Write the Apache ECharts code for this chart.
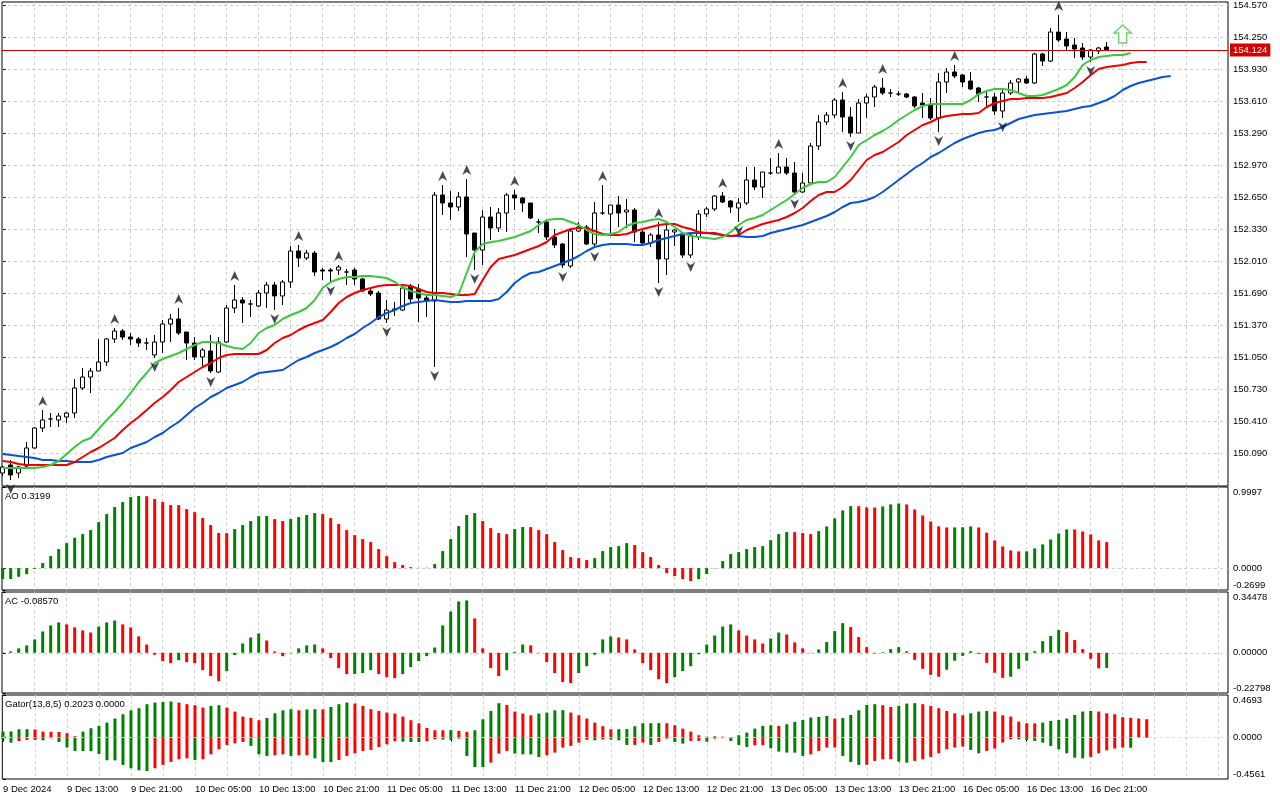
<!DOCTYPE html>
<html>
<head>
<meta charset="utf-8">
<script src="https://cdn.jsdelivr.net/npm/echarts@6/dist/echarts.min.js"></script>
<style>
html, body { margin: 0; padding: 0; background: #fff; }
#chart { width: 1280px; height: 800px; }
</style>
</head>
<body>
<div id="chart"></div>
<script>
const FONT = "'Liberation Sans', Arial, sans-serif"
const FS = 9.5

// time axis labels, one every 8 hourly bars
const timeLabels = ['9 Dec 2024', '9 Dec 13:00', '9 Dec 21:00', '10 Dec 05:00', '10 Dec 13:00', '10 Dec 21:00',
  '11 Dec 05:00', '11 Dec 13:00', '11 Dec 21:00', '12 Dec 05:00', '12 Dec 13:00', '12 Dec 21:00',
  '13 Dec 05:00', '13 Dec 13:00', '13 Dec 21:00', '16 Dec 05:00', '16 Dec 13:00', '16 Dec 21:00']

const priceTicks = [150.09, 150.41, 150.73, 151.05, 151.37, 151.69, 152.01, 152.33, 152.65, 152.97,
  153.29, 153.61, 153.93, 154.25, 154.57]

// hourly candles
const opens = [149.89, 149.97, 149.89, 149.96, 150.14, 150.34, 150.43, 150.42, 150.45, 150.49,
  150.74, 150.85, 150.91, 151.00, 151.23, 151.31, 151.25, 151.23, 151.19, 151.07,
  151.20, 151.38, 151.43, 151.30, 151.19, 151.05, 151.11, 150.90, 151.20, 151.54,
  151.62, 151.58, 151.56, 151.69, 151.77, 151.66, 151.80, 152.11, 152.04, 152.09,
  151.92, 151.92, 151.92, 151.90, 151.92, 151.83, 151.71, 151.69, 151.43, 151.52,
  151.52, 151.76, 151.73, 151.64, 151.61, 152.67, 152.59, 152.55, 152.65, 152.29,
  152.12, 152.45, 152.34, 152.49, 152.67, 152.64, 152.59, 152.40, 152.40, 152.25,
  152.18, 151.96, 152.31, 152.35, 152.18, 152.49, 152.48, 152.57, 152.50, 152.52,
  152.30, 152.19, 152.27, 152.03, 152.30, 152.28, 152.07, 152.25, 152.48, 152.53,
  152.66, 152.61, 152.54, 152.59, 152.82, 152.75, 152.89, 152.89, 152.95, 152.89,
  152.70, 152.79, 153.16, 153.40, 153.47, 153.62, 153.45, 153.29, 153.59, 153.65,
  153.74, 153.69, 153.68, 153.68, 153.65, 153.59, 153.57, 153.44, 153.80, 153.90,
  153.87, 153.81, 153.74, 153.65, 153.65, 153.51, 153.69, 153.80, 153.83, 153.79,
  154.08, 154.01, 154.30, 154.23, 154.17, 154.14, 154.05, 154.11, 154.15]
const highs = [149.96, 150.02, 149.96, 150.20, 150.35, 150.52, 150.49, 150.49, 150.50, 150.83,
  150.94, 150.94, 151.23, 151.24, 151.34, 151.33, 151.29, 151.25, 151.24, 151.27,
  151.42, 151.48, 151.54, 151.30, 151.25, 151.14, 151.27, 151.25, 151.57, 151.77,
  151.65, 151.62, 151.72, 151.80, 151.80, 151.82, 152.16, 152.17, 152.12, 152.11,
  151.94, 151.94, 151.97, 151.93, 151.94, 151.84, 151.73, 151.71, 151.62, 151.60,
  151.75, 151.78, 151.78, 151.67, 152.70, 152.77, 152.71, 152.70, 152.83, 152.29,
  152.52, 152.55, 152.54, 152.69, 152.72, 152.65, 152.59, 152.43, 152.42, 152.33,
  152.19, 152.34, 152.40, 152.37, 152.60, 152.77, 152.57, 152.66, 152.63, 152.54,
  152.33, 152.29, 152.40, 152.37, 152.33, 152.30, 152.29, 152.52, 152.55, 152.67,
  152.70, 152.62, 152.64, 152.95, 152.95, 152.90, 153.04, 153.09, 153.04, 153.00,
  152.89, 153.19, 153.47, 153.50, 153.64, 153.70, 153.55, 153.63, 153.68, 153.77,
  153.84, 153.73, 153.71, 153.69, 153.66, 153.69, 153.64, 153.89, 153.94, 153.97,
  153.88, 153.90, 153.75, 153.72, 153.69, 153.73, 153.82, 153.84, 153.86, 154.09,
  154.09, 154.34, 154.47, 154.30, 154.24, 154.19, 154.13, 154.15, 154.20]
const lows = [149.86, 149.82, 149.84, 149.95, 150.13, 150.30, 150.35, 150.35, 150.39, 150.44,
  150.72, 150.69, 150.91, 150.96, 151.19, 151.22, 151.17, 151.15, 151.12, 151.04,
  151.09, 151.20, 151.27, 151.02, 151.02, 150.95, 150.89, 150.89, 151.19, 151.49,
  151.39, 151.45, 151.55, 151.54, 151.52, 151.57, 151.74, 151.95, 152.02, 151.86,
  151.82, 151.80, 151.87, 151.77, 151.77, 151.70, 151.66, 151.42, 151.39, 151.46,
  151.51, 151.58, 151.40, 151.45, 150.95, 152.47, 152.42, 152.51, 152.05, 151.92,
  151.97, 152.22, 152.30, 152.30, 152.52, 152.50, 152.43, 152.29, 152.22, 152.14,
  151.94, 151.94, 152.30, 152.17, 152.14, 152.47, 152.29, 152.35, 152.34, 152.20,
  152.17, 152.15, 151.79, 151.87, 152.16, 152.04, 152.04, 152.22, 152.45, 152.51,
  152.59, 152.49, 152.40, 152.57, 152.72, 152.64, 152.87, 152.89, 152.87, 152.67,
  152.69, 152.77, 153.12, 153.37, 153.44, 153.30, 153.25, 153.29, 153.44, 153.55,
  153.67, 153.65, 153.66, 153.64, 153.54, 153.44, 153.42, 153.30, 153.69, 153.84,
  153.75, 153.72, 153.60, 153.54, 153.47, 153.44, 153.67, 153.69, 153.78, 153.78,
  153.96, 154.00, 154.20, 154.12, 154.04, 154.02, 154.00, 154.08, 154.11]
const closes = [149.95, 149.87, 149.95, 150.14, 150.34, 150.42, 150.43, 150.46, 150.49, 150.74,
  150.85, 150.91, 151.00, 151.23, 151.31, 151.25, 151.23, 151.19, 151.19, 151.20,
  151.38, 151.43, 151.29, 151.19, 151.05, 151.12, 150.91, 151.20, 151.54, 151.62,
  151.59, 151.58, 151.69, 151.77, 151.66, 151.80, 152.11, 152.04, 152.09, 151.90,
  151.91, 151.91, 151.95, 151.90, 151.83, 151.71, 151.68, 151.43, 151.52, 151.53,
  151.74, 151.63, 151.64, 151.61, 152.67, 152.59, 152.55, 152.65, 152.28, 152.12,
  152.45, 152.34, 152.49, 152.67, 152.64, 152.59, 152.44, 152.40, 152.25, 152.17,
  151.97, 152.31, 152.35, 152.18, 152.49, 152.49, 152.57, 152.49, 152.52, 152.30,
  152.19, 152.27, 152.03, 152.32, 152.32, 152.07, 152.27, 152.48, 152.53, 152.66,
  152.60, 152.55, 152.59, 152.82, 152.75, 152.90, 152.89, 152.95, 152.89, 152.70,
  152.79, 153.16, 153.40, 153.47, 153.62, 153.45, 153.29, 153.59, 153.65, 153.75,
  153.69, 153.69, 153.68, 153.65, 153.56, 153.57, 153.44, 153.80, 153.90, 153.86,
  153.80, 153.73, 153.68, 153.65, 153.51, 153.69, 153.79, 153.83, 153.79, 154.08,
  154.01, 154.30, 154.22, 154.16, 154.13, 154.05, 154.12, 154.14, 154.124]

// Alligator lines, drawn shifted forward (values per bar index from 0)
const jaw = [150.08, 150.07, 150.06, 150.05, 150.04, 150.02, 150.02, 150.01, 150.01, 150.00,
  150.00, 150.00, 150.02, 150.05, 150.07, 150.09, 150.14, 150.17, 150.20, 150.25,
  150.29, 150.35, 150.40, 150.47, 150.54, 150.59, 150.65, 150.69, 150.74, 150.77,
  150.80, 150.85, 150.89, 150.90, 150.91, 150.92, 150.97, 151.02, 151.05, 151.09,
  151.12, 151.15, 151.19, 151.24, 151.28, 151.34, 151.39, 151.45, 151.49, 151.52,
  151.56, 151.59, 151.60, 151.61, 151.62, 151.61, 151.60, 151.60, 151.61, 151.61,
  151.61, 151.61, 151.63, 151.70, 151.79, 151.85, 151.89, 151.90, 151.93, 151.96,
  151.99, 152.02, 152.06, 152.11, 152.15, 152.17, 152.18, 152.18, 152.18, 152.17,
  152.17, 152.19, 152.22, 152.24, 152.26, 152.28, 152.29, 152.29, 152.29, 152.28,
  152.27, 152.26, 152.26, 152.25, 152.25, 152.26, 152.29, 152.31, 152.33, 152.35,
  152.37, 152.40, 152.43, 152.46, 152.50, 152.55, 152.59, 152.60, 152.62, 152.65,
  152.70, 152.76, 152.82, 152.88, 152.94, 152.99, 153.05, 153.09, 153.14, 153.19,
  153.23, 153.26, 153.29, 153.31, 153.32, 153.35, 153.39, 153.43, 153.45, 153.47,
  153.48, 153.49, 153.50, 153.51, 153.53, 153.55, 153.56, 153.59, 153.62, 153.66,
  153.72, 153.76, 153.79, 153.81, 153.83, 153.85, 153.86]
const teeth = [150.01, 150.00, 149.98, 149.97, 149.97, 149.97, 149.97, 149.97, 149.97, 150.00,
  150.05, 150.10, 150.14, 150.19, 150.24, 150.32, 150.39, 150.45, 150.52, 150.59,
  150.65, 150.72, 150.80, 150.85, 150.90, 150.95, 150.99, 151.04, 151.07, 151.08,
  151.08, 151.08, 151.08, 151.12, 151.19, 151.24, 151.27, 151.32, 151.36, 151.39,
  151.42, 151.50, 151.59, 151.65, 151.69, 151.72, 151.74, 151.76, 151.77, 151.77,
  151.77, 151.76, 151.73, 151.70, 151.69, 151.69, 151.68, 151.67, 151.67, 151.68,
  151.82, 151.95, 152.03, 152.05, 152.07, 152.10, 152.13, 152.16, 152.20, 152.27,
  152.30, 152.33, 152.34, 152.34, 152.31, 152.28, 152.27, 152.27, 152.28, 152.31,
  152.33, 152.35, 152.37, 152.38, 152.38, 152.35, 152.33, 152.30, 152.29, 152.29,
  152.27, 152.26, 152.27, 152.32, 152.35, 152.38, 152.40, 152.42, 152.45, 152.49,
  152.54, 152.61, 152.67, 152.70, 152.70, 152.75, 152.82, 152.92, 153.02, 153.07,
  153.10, 153.15, 153.20, 153.27, 153.32, 153.37, 153.40, 153.44, 153.46, 153.47,
  153.48, 153.48, 153.49, 153.55, 153.59, 153.61, 153.63, 153.63, 153.64, 153.64,
  153.64, 153.65, 153.67, 153.69, 153.74, 153.80, 153.87, 153.93, 153.95, 153.96,
  153.97, 153.99, 154.00, 154.00]
const lips = [149.94, 149.94, 149.94, 149.94, 149.94, 149.95, 149.97, 150.01, 150.08, 150.15,
  150.21, 150.24, 150.33, 150.42, 150.50, 150.59, 150.69, 150.80, 150.89, 150.99,
  151.03, 151.06, 151.09, 151.13, 151.17, 151.20, 151.20, 151.19, 151.16, 151.14,
  151.13, 151.19, 151.29, 151.34, 151.37, 151.43, 151.47, 151.50, 151.54, 151.62,
  151.74, 151.80, 151.83, 151.85, 151.85, 151.86, 151.86, 151.85, 151.84, 151.80,
  151.75, 151.71, 151.69, 151.67, 151.67, 151.66, 151.65, 151.68, 151.89, 152.10,
  152.18, 152.20, 152.21, 152.23, 152.25, 152.28, 152.31, 152.37, 152.42, 152.43,
  152.43, 152.40, 152.37, 152.32, 152.28, 152.27, 152.28, 152.30, 152.36, 152.39,
  152.40, 152.42, 152.43, 152.40, 152.35, 152.29, 152.26, 152.25, 152.24, 152.23,
  152.25, 152.30, 152.37, 152.42, 152.44, 152.47, 152.52, 152.57, 152.62, 152.68,
  152.74, 152.78, 152.80, 152.80, 152.85, 152.95, 153.05, 153.17, 153.22, 153.27,
  153.31, 153.36, 153.42, 153.47, 153.52, 153.56, 153.58, 153.58, 153.58, 153.58,
  153.58, 153.62, 153.68, 153.71, 153.73, 153.73, 153.72, 153.69, 153.66, 153.66,
  153.67, 153.70, 153.73, 153.77, 153.85, 153.97, 154.02, 154.05, 154.06, 154.07,
  154.07, 154.09]

const fractalUpBars = [5, 14, 22, 29, 37, 42, 55, 58, 64, 75, 82, 90, 97, 105, 110, 119, 132]
const fractalDownBars = [1, 19, 26, 34, 41, 48, 54, 59, 70, 74, 82, 86, 92, 99, 106, 117, 125, 136]

const signalBar = 140
const signalPrice = 154.28

const ao = [-0.136, -0.134, -0.107, -0.074, -0.010, 0.062, 0.148, 0.234, 0.308, 0.374,
  0.419, 0.469, 0.567, 0.666, 0.752, 0.814, 0.875, 0.888, 0.886, 0.851,
  0.814, 0.777, 0.776, 0.727, 0.690, 0.617, 0.530, 0.432, 0.431, 0.481,
  0.530, 0.580, 0.641, 0.642, 0.604, 0.580, 0.605, 0.629, 0.654, 0.678,
  0.666, 0.617, 0.543, 0.469, 0.407, 0.358, 0.321, 0.234, 0.148, 0.074,
  0.037, 0.012, 0.002, 0.004, 0.049, 0.210, 0.358, 0.518, 0.654, 0.678,
  0.580, 0.493, 0.432, 0.419, 0.481, 0.506, 0.505, 0.469, 0.419, 0.321,
  0.222, 0.136, 0.123, 0.099, 0.123, 0.210, 0.259, 0.271, 0.308, 0.284,
  0.197, 0.136, 0.037, -0.062, -0.099, -0.136, -0.160, -0.136, -0.074, -0.003,
  0.086, 0.173, 0.197, 0.234, 0.259, 0.271, 0.345, 0.419, 0.444, 0.443,
  0.432, 0.419, 0.456, 0.514, 0.612, 0.711, 0.764, 0.763, 0.748, 0.747,
  0.760, 0.785, 0.797, 0.785, 0.723, 0.649, 0.575, 0.514, 0.501, 0.502,
  0.503, 0.514, 0.501, 0.436, 0.341, 0.267, 0.218, 0.206, 0.207, 0.243,
  0.292, 0.353, 0.427, 0.477, 0.476, 0.452, 0.415, 0.341, 0.3199]

const ac = [0.002, 0.008, 0.025, 0.042, 0.076, 0.121, 0.155, 0.172, 0.161, 0.144,
  0.127, 0.115, 0.149, 0.172, 0.183, 0.161, 0.144, 0.093, 0.047, -0.011,
  -0.047, -0.059, -0.042, -0.053, -0.059, -0.098, -0.132, -0.161, -0.104, -0.013,
  0.053, 0.087, 0.110, 0.070, 0.008, -0.019, -0.002, 0.025, 0.042, 0.047,
  0.025, -0.030, -0.087, -0.121, -0.120, -0.115, -0.098, -0.121, -0.138, -0.144,
  -0.121, -0.081, -0.047, -0.019, 0.030, 0.155, 0.234, 0.291, 0.297, 0.195,
  0.025, -0.087, -0.132, -0.098, 0.006, 0.047, 0.042, -0.002, -0.053, -0.115,
  -0.166, -0.172, -0.115, -0.076, -0.011, 0.076, 0.093, 0.087, 0.076, 0.019,
  -0.059, -0.098, -0.149, -0.172, -0.138, -0.104, -0.076, -0.008, 0.047, 0.098,
  0.149, 0.161, 0.127, 0.098, 0.076, 0.053, 0.081, 0.115, 0.104, 0.059,
  0.025, -0.002, 0.019, 0.061, 0.123, 0.168, 0.146, 0.089, 0.032, -0.004,
  0.004, 0.021, 0.032, 0.009, -0.040, -0.091, -0.125, -0.136, -0.096, -0.045,
  -0.017, 0.009, -0.006, -0.057, -0.113, -0.142, -0.136, -0.091, -0.045, 0.009,
  0.066, 0.095, 0.129, 0.117, 0.072, 0.021, -0.034, -0.088, -0.0857]

const gatorUp = [0.066, 0.068, 0.092, 0.093, 0.090, 0.066, 0.064, 0.062, 0.048, 0.015,
  0.066, 0.103, 0.129, 0.165, 0.210, 0.257, 0.301, 0.324, 0.368, 0.386,
  0.392, 0.397, 0.386, 0.368, 0.357, 0.331, 0.349, 0.357, 0.331, 0.287,
  0.232, 0.217, 0.191, 0.217, 0.268, 0.301, 0.313, 0.301, 0.310, 0.313,
  0.311, 0.338, 0.368, 0.386, 0.375, 0.349, 0.313, 0.294, 0.276, 0.265,
  0.232, 0.191, 0.158, 0.107, 0.081, 0.080, 0.082, 0.074, 0.063, 0.081,
  0.202, 0.294, 0.379, 0.360, 0.287, 0.265, 0.246, 0.265, 0.276, 0.301,
  0.302, 0.276, 0.246, 0.210, 0.165, 0.125, 0.092, 0.093, 0.094, 0.125,
  0.158, 0.159, 0.160, 0.158, 0.136, 0.099, 0.066, 0.026, 0.011, 0.014,
  0.010, 0.006, 0.026, 0.055, 0.099, 0.129, 0.136, 0.129, 0.147, 0.173,
  0.195, 0.221, 0.228, 0.239, 0.210, 0.215, 0.250, 0.301, 0.360, 0.368,
  0.357, 0.338, 0.349, 0.375, 0.379, 0.368, 0.349, 0.324, 0.294, 0.268,
  0.246, 0.268, 0.287, 0.294, 0.287, 0.246, 0.232, 0.176, 0.158, 0.157,
  0.165, 0.184, 0.195, 0.210, 0.250, 0.287, 0.294, 0.287, 0.268, 0.257,
  0.225, 0.218, 0.210, 0.2023]

const gatorDown = [-0.018, -0.055, -0.037, -0.026, -0.025, -0.030, -0.007, -0.048, -0.110, -0.147,
  -0.148, -0.150, -0.180, -0.250, -0.251, -0.301, -0.338, -0.360, -0.368, -0.338,
  -0.301, -0.268, -0.239, -0.228, -0.246, -0.239, -0.184, -0.129, -0.081, -0.063,
  -0.048, -0.092, -0.184, -0.202, -0.195, -0.184, -0.202, -0.195, -0.194, -0.228,
  -0.268, -0.269, -0.246, -0.202, -0.173, -0.147, -0.136, -0.103, -0.074, -0.040,
  -0.045, -0.048, -0.049, -0.040, -0.018, -0.022, -0.026, -0.011, -0.202, -0.324,
  -0.325, -0.276, -0.176, -0.147, -0.176, -0.184, -0.185, -0.213, -0.195, -0.165,
  -0.110, -0.092, -0.055, -0.025, -0.030, -0.020, -0.022, -0.030, -0.081, -0.080,
  -0.055, -0.081, -0.048, -0.011, -0.048, -0.066, -0.037, -0.036, -0.044, -0.011,
  -0.007, -0.037, -0.081, -0.103, -0.085, -0.084, -0.118, -0.154, -0.165, -0.166,
  -0.202, -0.184, -0.147, -0.110, -0.109, -0.202, -0.268, -0.301, -0.300, -0.257,
  -0.239, -0.238, -0.265, -0.276, -0.257, -0.239, -0.213, -0.173, -0.129, -0.110,
  -0.099, -0.136, -0.173, -0.147, -0.121, -0.055, -0.018, -0.020, -0.026, -0.037,
  -0.055, -0.092, -0.129, -0.173, -0.221, -0.228, -0.213, -0.173, -0.140, -0.121,
  -0.110, -0.112]

// ---- layout ----
const GREEN = '#008000'
const RED = '#ff0000'
const GRID_LINE = { color: '#cfcfcf', type: [3, 3], width: 1 }
const X_MIN = -0.0875
const X_MAX = 153.1625
const LEFT = 2
const RIGHT = 52

const panels = [
  { top: 2, height: 484 },   // price
  { top: 487, height: 103 }, // AO
  { top: 592, height: 101 }, // AC
  { top: 695, height: 84 }   // Gator
]

const splitBars = []
for (let i = 4; i < X_MAX; i += 4) splitBars.push(i)
const labelBars = timeLabels.map((_, k) => k * 8)

const lastPrice = closes[closes.length - 1]

function textStyle(extra) {
  return Object.assign({ color: '#000', fontSize: FS, fontFamily: FONT }, extra)
}

function xAxis(gridIndex, extra) {
  return Object.assign({
    type: 'value', gridIndex, min: X_MIN, max: X_MAX,
    axisLine: { show: false },
    axisTick: { show: false },
    axisLabel: { show: false },
    splitLine: { show: false }
  }, extra)
}

function gridXAxis(gridIndex) {
  return xAxis(gridIndex, {
    axisTick: { show: false, customValues: splitBars },
    splitLine: { show: true, lineStyle: GRID_LINE }
  })
}

// two y axes per oscillator panel: one for labels/ticks, one for the zero line
function oscYAxes(gridIndex, min, max, digits) {
  const vals = [min, 0, max]
  return [{
    type: 'value', gridIndex, min, max, position: 'right',
    axisLine: { show: false },
    axisTick: { show: true, customValues: vals, length: 3, lineStyle: { color: '#000' } },
    axisLabel: Object.assign(textStyle({ margin: 5, customValues: vals,
      verticalAlignMinLabel: 'bottom', verticalAlignMaxLabel: 'top',
      formatter: v => v.toFixed(digits) })),
    splitLine: { show: false }
  }, {
    type: 'value', gridIndex, min, max, position: 'right',
    axisLine: { show: false },
    axisTick: { show: false, customValues: [0] },
    axisLabel: { show: false },
    splitLine: { show: true, lineStyle: GRID_LINE }
  }]
}

function histogram(values, greenWhenRising) {
  let color = GREEN
  return values.map((v, i) => {
    if (i > 0 && v !== values[i - 1]) {
      const rising = v > values[i - 1]
      color = rising === greenWhenRising ? GREEN : RED
    }
    return { value: [i, v], itemStyle: { color } }
  })
}

function lineData(values) {
  return values.map((v, i) => [i, v])
}

const candles = opens.map((o, i) => [i, o, closes[i], lows[i], highs[i]])

const upArrow = 'path://M5,0 L10,10 L5,7 L0,10 Z'
const downArrow = 'path://M0,0 L5,3 L10,0 L5,10 Z'
const buyArrow = 'path://M8.5,0 L17,8 L12.5,8 L12.5,18 L4.5,18 L4.5,8 L0,8 Z'

const option = {
  animation: false,
  backgroundColor: '#fff',
  textStyle: { fontFamily: FONT },
  title: [
    { text: 'AO ' + ao[ao.length - 1].toFixed(4), left: 5, top: 491, padding: 0,
      textStyle: textStyle({ fontWeight: 'normal' }) },
    { text: 'AC ' + ac[ac.length - 1].toFixed(5), left: 5, top: 596, padding: 0,
      textStyle: textStyle({ fontWeight: 'normal' }) },
    { text: 'Gator(13,8,5) ' + gatorUp[gatorUp.length - 1].toFixed(4) + ' 0.0000', left: 5, top: 699, padding: 0,
      textStyle: textStyle({ fontWeight: 'normal' }) }
  ],
  grid: panels.map(p => ({
    left: LEFT, right: RIGHT, top: p.top, height: p.height,
    show: true, borderColor: '#000', borderWidth: 1, backgroundColor: '#fff'
  })),
  xAxis: [
    gridXAxis(0),
    gridXAxis(1),
    gridXAxis(2),
    gridXAxis(3),
    xAxis(3, {
      position: 'bottom',
      axisTick: { show: true, customValues: labelBars, length: 4, lineStyle: { color: '#000' } },
      axisLabel: textStyle({ show: true, customValues: labelBars, align: 'left', margin: 5,
        formatter: v => timeLabels[Math.round(v / 8)] })
    })
  ],
  yAxis: [
    {
      type: 'value', gridIndex: 0, min: 149.76, max: 154.60, position: 'right',
      axisLine: { show: false },
      axisTick: { show: true, customValues: priceTicks, length: 3, lineStyle: { color: '#000' } },
      axisLabel: textStyle({ margin: 5, customValues: priceTicks, formatter: v => v.toFixed(3) }),
      splitLine: { show: true, lineStyle: GRID_LINE }
    },
    ...oscYAxes(1, -0.2699, 0.9997, 4),
    ...oscYAxes(2, -0.22798, 0.34478, 5),
    ...oscYAxes(3, -0.4561, 0.4693, 4)
  ],
  series: [
    {
      type: 'candlestick', xAxisIndex: 0, yAxisIndex: 0,
      data: candles, encode: { x: 0, y: [1, 2, 3, 4] },
      barWidth: 5,
      itemStyle: { color: '#fff', color0: '#000', borderColor: '#000', borderColor0: '#000', borderWidth: 1 },
      markLine: {
        silent: true, symbol: ['none', 'none'],
        lineStyle: { color: '#d40000', width: 1, type: 'solid' },
        label: {
          show: true, position: 'end', distance: 2,
          formatter: () => lastPrice.toFixed(3),
          color: '#fff', backgroundColor: '#d40000', padding: [2, 3, 1, 3],
          fontSize: FS, fontFamily: FONT
        },
        emphasis: { disabled: true },
        data: [{ yAxis: lastPrice }]
      },
      z: 2
    },
    { type: 'line', name: 'Jaw', xAxisIndex: 0, yAxisIndex: 0, data: lineData(jaw),
      showSymbol: false, lineStyle: { color: '#0a52d6', width: 2 }, z: 3 },
    { type: 'line', name: 'Teeth', xAxisIndex: 0, yAxisIndex: 0, data: lineData(teeth),
      showSymbol: false, lineStyle: { color: '#f00000', width: 2 }, z: 3 },
    { type: 'line', name: 'Lips', xAxisIndex: 0, yAxisIndex: 0, data: lineData(lips),
      showSymbol: false, lineStyle: { color: '#3cc83c', width: 2 }, z: 3 },
    { type: 'scatter', xAxisIndex: 0, yAxisIndex: 0,
      data: fractalUpBars.map(i => [i, highs[i]]),
      symbol: upArrow, symbolSize: [9, 10], symbolOffset: [0, -9],
      itemStyle: { color: '#1a1a30' }, z: 4 },
    { type: 'scatter', xAxisIndex: 0, yAxisIndex: 0,
      data: fractalDownBars.map(i => [i, lows[i]]),
      symbol: downArrow, symbolSize: [9, 10], symbolOffset: [0, 9],
      itemStyle: { color: '#1a1a30' }, z: 4 },
    { type: 'scatter', xAxisIndex: 0, yAxisIndex: 0,
      data: [[signalBar, signalPrice]],
      symbol: buyArrow, symbolSize: [17, 18],
      itemStyle: { color: '#fff', borderColor: '#4cc84c', borderWidth: 1.5 }, z: 4 },
    { type: 'bar', xAxisIndex: 1, yAxisIndex: 1, barWidth: 3, data: histogram(ao, true) },
    { type: 'bar', xAxisIndex: 2, yAxisIndex: 3, barWidth: 3, data: histogram(ac, true) },
    { type: 'bar', xAxisIndex: 3, yAxisIndex: 5, barWidth: 3, barGap: '-100%', data: histogram(gatorUp, true),
      markLine: {
        silent: true, symbol: ['none', 'none'],
        lineStyle: { color: '#dedede', width: 1, type: [3, 3] },
        label: { show: false }, data: [{ yAxis: 0 }]
      } },
    { type: 'bar', xAxisIndex: 3, yAxisIndex: 5, barWidth: 3, barGap: '-100%', data: histogram(gatorDown, false) }
  ]
}

const chart = echarts.init(document.getElementById('chart'))
chart.setOption(option)
</script>
</body>
</html>
